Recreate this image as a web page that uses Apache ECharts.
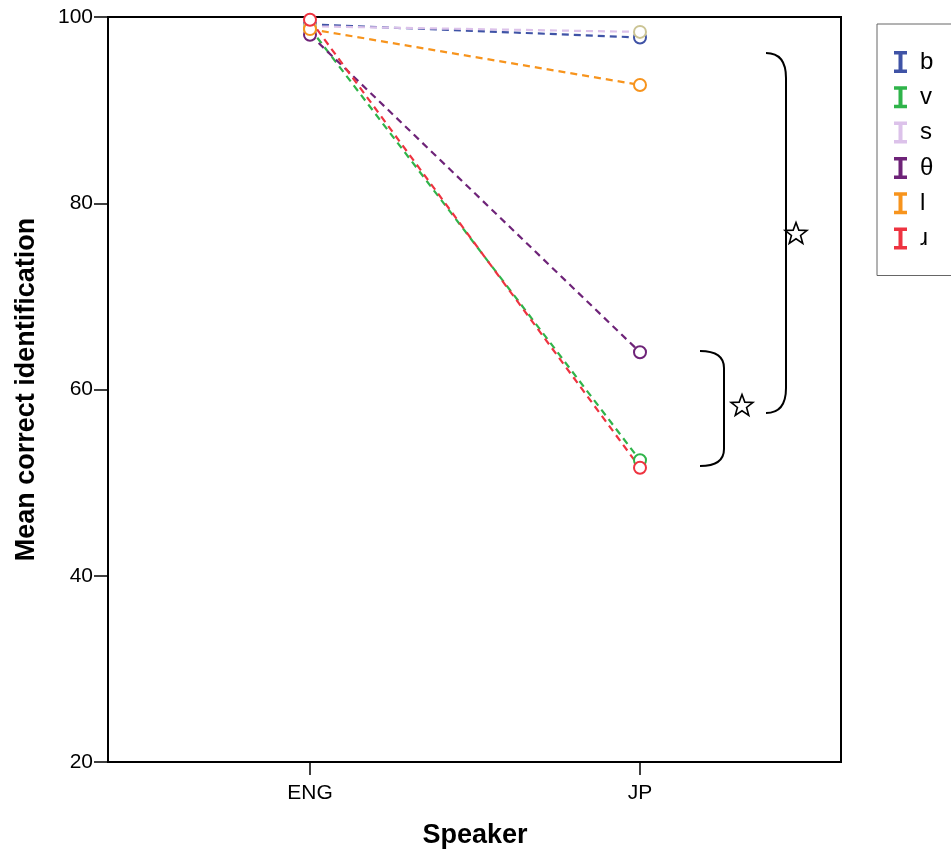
<!DOCTYPE html>
<html>
<head>
<meta charset="utf-8">
<script src="https://cdn.jsdelivr.net/npm/echarts@6/dist/echarts.min.js"></script>
<style>html,body{margin:0;padding:0;background:#fff;}#c{width:951px;height:859px;}</style>
</head>
<body>
<div id="c"></div>
<script>
var categories = ['ENG', 'JP'];
var yTicks = [20, 40, 60, 80, 100];
var seriesNames = ['b', 'v', 's', 'θ', 'l', 'ɹ'];
var b_vals = [99.2, 97.8];
var v_vals = [98.8, 52.4];
var s_vals = [99.0, 98.4];
var th_vals = [98.1, 64.0];
var l_vals = [98.7, 92.7];
var r_vals = [99.7, 51.6];
var lineColors = ['#3F53A6', '#2FB44A', '#DCC2EA', '#6E2378', '#F7941D', '#EE3340'];
var markerColors = ['#3F53A6', '#2FB44A', '#CBC494', '#6E2378', '#F7941D', '#EE3340'];
var allVals = [b_vals, v_vals, s_vals, th_vals, l_vals, r_vals];

var font = 'Liberation Sans, Arial, sans-serif';
var iconPath = 'path://M0,0H13V3.5H8.5V18.5H13V22H0V18.5H4.5V3.5H0Z';

function starPoints(cx, cy, R, r) {
  var pts = [];
  for (var i = 0; i < 10; i++) {
    var a = -Math.PI / 2 + i * Math.PI / 5;
    var rad = i % 2 === 0 ? R : r;
    pts.push([cx + rad * Math.cos(a), cy + rad * Math.sin(a)]);
  }
  return pts;
}
function bracket(x0, x1, yTop, yBot, curve) {
  var st = {fill: 'none', stroke: '#000', lineWidth: 2};
  return [
    {type: 'bezierCurve', shape: {x1: x0, y1: yTop, x2: x1, y2: yTop + curve, cpx1: x1, cpy1: yTop}, style: st},
    {type: 'line', shape: {x1: x1, y1: yTop + curve, x2: x1, y2: yBot - curve}, style: st},
    {type: 'bezierCurve', shape: {x1: x1, y1: yBot - curve, x2: x0, y2: yBot, cpx1: x1, cpy1: yBot}, style: st}
  ];
}

var chart = echarts.init(document.getElementById('c'), null, {renderer: 'canvas'});
var series = seriesNames.map(function (n, i) {
  return {
    name: n, type: 'line', xAxisIndex: 1, yAxisIndex: 1,
    data: allVals[i],
    symbol: 'emptyCircle', symbolSize: 12,
    itemStyle: {color: markerColors[i], borderColor: markerColors[i], borderWidth: 1.8},
    lineStyle: {color: lineColors[i], width: 2.2, type: [7, 5]},
    emphasis: {disabled: true},
    animation: false
  };
});

chart.setOption({
  animation: false,
  backgroundColor: '#fff',
  grid: [
    {left: 108, top: 17, right: 110, bottom: 97, show: true, borderColor: '#000', borderWidth: 2, backgroundColor: 'transparent'},
    {left: 145, top: 17, right: 146, bottom: 97}
  ],
  xAxis: [
    {gridIndex: 0, type: 'value', min: 0, max: 1, axisLine: {show: false}, axisTick: {show: false}, axisLabel: {show: false}, splitLine: {show: false}},
    {gridIndex: 1, type: 'category', data: categories, boundaryGap: true,
     axisLine: {show: false}, axisTick: {show: true, alignWithLabel: true, length: 13, lineStyle: {color: '#000', width: 1.5}},
     axisLabel: {color: '#000', fontSize: 21, fontFamily: font, margin: 21},
     name: 'Speaker', nameLocation: 'middle', nameGap: 60,
     nameTextStyle: {color: '#000', fontSize: 27, fontWeight: 'bold', fontFamily: font}}
  ],
  yAxis: [
    {gridIndex: 0, type: 'value', min: yTicks[0], max: yTicks[yTicks.length - 1], interval: 20,
     axisLine: {show: false}, splitLine: {show: false},
     axisTick: {show: true, length: 14, lineStyle: {color: '#000', width: 1.5}},
     axisLabel: {color: '#000', fontSize: 21, fontFamily: font, margin: 15},
     name: 'Mean correct identification', nameLocation: 'middle', nameGap: 68,
     nameTextStyle: {color: '#000', fontSize: 27, fontWeight: 'bold', fontFamily: font}},
    {gridIndex: 1, type: 'value', min: yTicks[0], max: yTicks[yTicks.length - 1], show: false}
  ],
  legend: {
    orient: 'vertical', left: 877, top: 24,
    padding: [26, 70, 25, 17], itemGap: 11.3, itemWidth: 13, itemHeight: 22,
    borderColor: '#666', borderWidth: 1,
    textStyle: {color: '#000', fontSize: 24, fontFamily: font, padding: [0, 0, 0, 8]},
    data: seriesNames.map(function (n, i) {
      return {name: n, icon: iconPath, itemStyle: {color: lineColors[i], borderWidth: 0}};
    }),
    selectedMode: false
  },
  series: series,
  graphic: bracket(700, 724, 351, 466, 17).concat(bracket(766, 786, 53, 413, 25)).concat([
    {type: 'polygon', shape: {points: starPoints(742, 406, 11.5, 4.8)}, style: {fill: '#fff', stroke: '#000', lineWidth: 1.6}},
    {type: 'polygon', shape: {points: starPoints(796, 234, 11.5, 4.8)}, style: {fill: '#fff', stroke: '#000', lineWidth: 1.6}}
  ])
});
</script>
</body>
</html>
